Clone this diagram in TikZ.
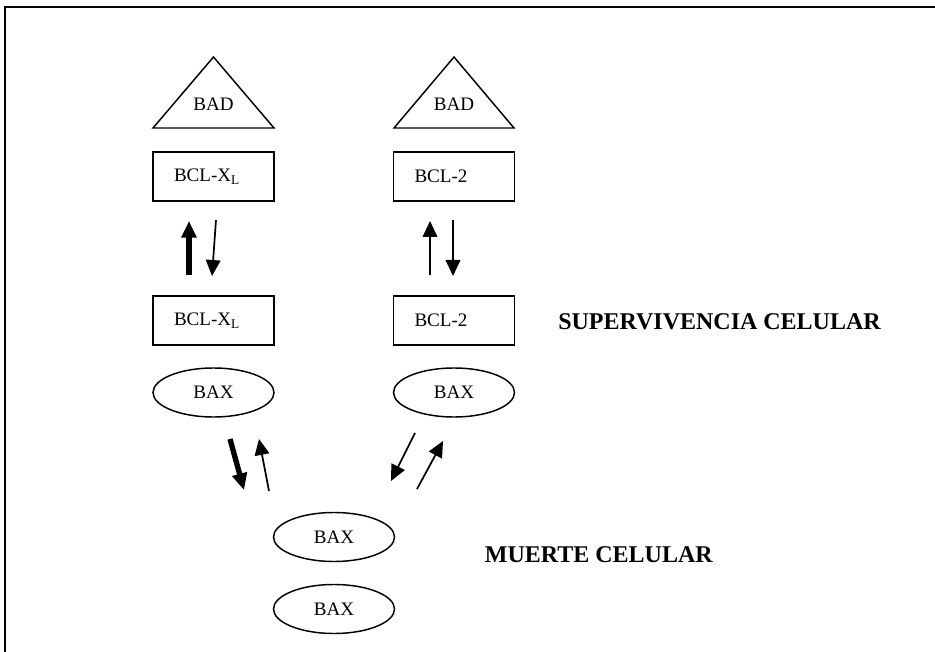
\documentclass[tikz,border=0pt]{standalone}
\usepackage{fontspec}
\setmainfont{Liberation Serif}
\usetikzlibrary{arrows.meta, shapes.geometric}

\tikzset{
  txt/.style={font=\fontsize{14.3}{16}\selectfont},
  box/.style={draw, line width=1.1pt, txt, minimum width=90.75pt, minimum height=36.75pt,
    text width=59.25pt, inner xsep=15.75pt, inner ysep=0pt, align=left},
  bax/.style={draw, ellipse, line width=1.1pt, txt, minimum width=90.75pt, minimum height=36.75pt, inner sep=0pt},
  fase/.style={font=\fontsize{18}{20}\selectfont\bfseries, inner sep=0pt},
  thinarr/.style={-{Triangle[length=12pt,width=11pt]}, line width=1.3pt},
  thickarr/.style={-{Triangle[length=12.5pt,width=11pt]}, line width=4pt},
}

\begin{document}
\begin{tikzpicture}[x=0.75pt, y=-0.75pt]
\useasboundingbox (0,0) rectangle (935,652);
% marco
\draw[line width=1.5pt] (5,652) -- (5,7) -- (935,7);

% BAD
\draw[line width=1.1pt] (153,128) -- (213.5,57) -- (274,128) -- cycle;
\draw[line width=1.1pt] (394,128) -- (454,57) -- (514,128) -- cycle;
\node[txt] (badL) at (213.5,104) {BAD};
\node[txt] (badR) at (454,104) {BAD};

% cajas
\node[box] (xlA) at (213.5,176.5) {BCL-X\textsubscript{L}};
\node[box] (bcA) at (454,176.5) {BCL-2};
\node[box] (xlB) at (213.5,320.5) {BCL-X\textsubscript{L}};
\node[box] (bcB) at (454,320.5) {BCL-2};

% BAX
\node[bax] (baxL) at (213.5,392.5) {BAX};
\node[bax] (baxR) at (454,392.5) {BAX};
\node[bax] (baxM) at (334,537) {BAX};
\node[bax] (baxN) at (334,609) {BAX};

\node[fase, anchor=west] (superv) at (558,322) {SUPERVIVENCIA CELULAR};
\node[fase, anchor=east] (muerte) at (713,555) {MUERTE CELULAR};

% flechas
\coordinate (a1) at (189,275);  \coordinate (a2) at (189,221);
\coordinate (b1) at (216,220);  \coordinate (b2) at (212,276);
\coordinate (c1) at (430,275);  \coordinate (c2) at (430,221);
\coordinate (d1) at (453,220);  \coordinate (d2) at (453,276);
\coordinate (e1) at (230,439);  \coordinate (e2) at (244,490);
\coordinate (f1) at (269,491);  \coordinate (f2) at (259,439);
\coordinate (g1) at (415,433);  \coordinate (g2) at (391,481);
\coordinate (h1) at (417,489);  \coordinate (h2) at (443,441);
\draw[thickarr] (a1) -- (a2);
\draw[thinarr] (b1) -- (b2);
\draw[thinarr] (c1) -- (c2);
\draw[thinarr] (d1) -- (d2);
\draw[thickarr] (e1) -- (e2);
\draw[thinarr] (f1) -- (f2);
\draw[thinarr] (g1) -- (g2);
\draw[thinarr] (h1) -- (h2);
\end{tikzpicture}
\end{document}
